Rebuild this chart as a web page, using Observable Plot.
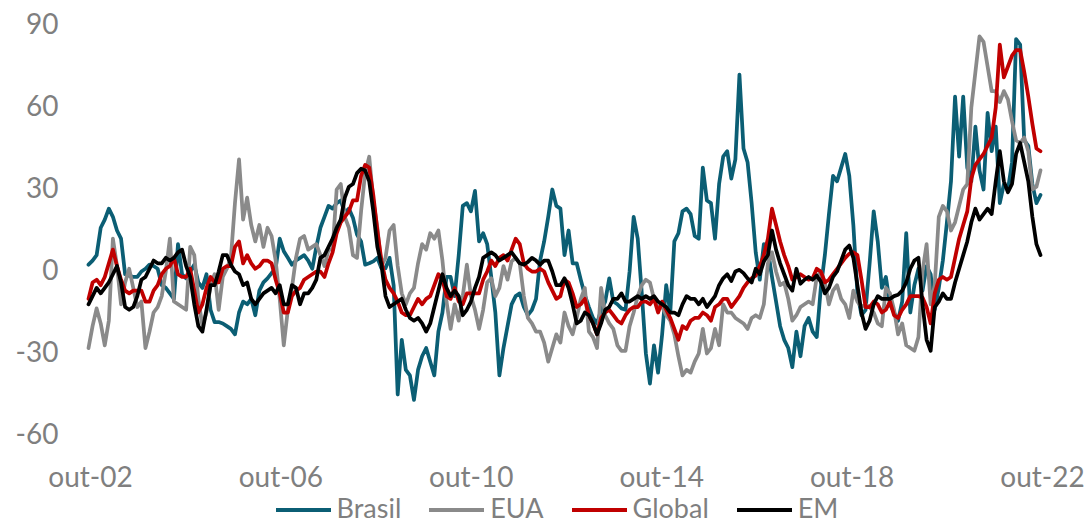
<!DOCTYPE html>
<html><head><meta charset="utf-8">
<script src="https://cdn.jsdelivr.net/npm/d3@7"></script>
<script src="https://cdn.jsdelivr.net/npm/@observablehq/plot@0.6"></script>
<style>
html,body{margin:0;padding:0;background:#fff;}
body{width:1084px;height:525px;overflow:hidden;position:relative;font-family:Lato,"Open Sans",sans-serif;}
#chart{position:absolute;left:0;top:0;}
#legend{position:absolute;left:0;top:491px;width:1084px;box-sizing:border-box;padding-left:30px;display:flex;justify-content:center;align-items:center;height:33px;color:#7f7f7f;font-size:27px;line-height:33px;}
.item{display:flex;align-items:center;margin:0 14px;}
.item svg{margin-right:6px;margin-top:4px;}
</style></head><body>
<div id="chart"></div><div id="legend"></div>
<script>
// monthly-spaced readings from out-02 to out-22
const firstDate = "2002-10-01";
const lastDate = "2022-10-01";
const seriesNames = ["Brasil", "EUA", "Global", "EM"];
const seriesColors = ["#0b5e74", "#8a8a8a", "#c00000", "#000000"];

const brasil = [
  2.5, 4, 6, 16, 19, 23, 20, 15, 12, -1,
  -1.5, -2, -2, 0, 1, 2.5, 2, 1, -5, -6,
  -8, -10, 10, -1, -2.5, 0, 2.5, -4, -6, -1,
  -14, -18.5, -18.5, -19, -20, -21, -23, -15, -11, -12,
  -10, -16, -7, -4, -2.5, -0.6, 1, 12, 7.4, 5,
  2.5, 4, 5, 6, 4, 1, 9, 16, 20, 24,
  23, 25, 26, 21.5, 23, 19.7, 13.5, 11, 2.5, 3,
  3.7, 5, 1.2, 1.2, 5, -5, -45, -25, -36, -38,
  -47, -36, -31, -28, -33, -38, -22, -15, -2, -2,
  -9, 6, 24, 25, 22, 29.5, 11, 14, 10, -2,
  -15, -38, -28, -20, -12, -9, -8, -13, -16, -14,
  -10, 4, 11, 20, 30, 24, 23, 6, 15, 3,
  3, -3, -8.6, -13, -17, -19, -14, -11, -2.5, -11,
  -12, -13.5, -14, 0, 20, 12, -8, -30, -41, -27,
  -37, -23, -5, -15, 11, 14, 22, 23, 21, 13,
  12, 38, 26, 25, 12, 32, 42, 44, 34, 41,
  72, 45, 40, 25, 7, -3, 10, 8, -2, -11,
  -20, -25, -28, -35, -22, -31, -20, -17, -22, -24,
  -6, 6, 21, 35, 33, 38, 43, 35, 17, -8,
  -16, -14, 3, 22, 11, -6, -2, -12, -15, -18,
  -11, 14, -15, -5, 1, -7, 2, -1, -14, -6,
  4, 18, 33, 64, 42, 64, 38, 33, 53, 37,
  30, 58, 44, 53, 25, 32, 30, 40, 85, 83,
  48, 46, 32, 25, 28
];
const eua = [
  -28, -20, -13.5, -19, -27, -18, 12, 2, -12, -4,
  1, -6, -13, -11, -28, -22, -15, -13, -9, 0,
  12, -11, -12, -13, -14, 9, 6, -10, -20, -15,
  -5, -1, -14, -2, 1, 5, 25, 41, 19, 27,
  17, 11, 17, 9, 16, 13, 4, -10, -27, -14,
  -6, 5, 12, 13, 8, 9, 10, 6, 2, 8,
  8, 30, 32, 20, 16, 6, 5, 22, 36, 42,
  26, 16, 2, 5, 15, 17, 2, -8, -12, -8,
  -6, 3, 10, 8, 14, 12, 15, 4, -11, -21,
  -12, -18, -9, 2.5, -9, -14, -21, -14, -4, -2.5,
  -9, -6, 2, -3, 3.7, 5, 3, -9, -17, -19,
  -22, -22, -26, -33, -28, -23, -26, -15, -20, -23,
  -17, -10, -6, -22, -24, -28, -6, -16, -19, -21,
  -27, -29, -29, -20, -15, -9, -5, -3, -4, -10,
  -12, -13, -16, -18, -23, -31, -38, -36, -37, -33,
  -30, -21, -30, -28, -21, -27, -12, -15, -15, -17,
  -18, -19, -21, -17, -16, -17, -12, 3, 7, 0,
  -5, -4, -10, -18, -16, -13, -12, -11, -12, -2,
  0, -4, -12, -7, -5, -10, -12, -17, -7, -11,
  -13, -12, -13, -15, -19, -20, -6, -8, -14, -23,
  -19, -27, -28, -29, -24, 0, 10, -12, -5, 20,
  24, 22, 15, 18, 24, 30, 32, 60, 73, 86,
  84, 75, 66, 66, 62, 66, 63, 55, 48, 47,
  49, 44, 30, 31, 37
];
const global = [
  -10, -4, -3, -5, -2, 3, 8, 2, -3, -7,
  -8, -7, -7, -7, -11, -11, -7, -5, -1, 1,
  2, 5, -1, -2, -2, 1, -7, -15, -12, -6,
  -2, -4, -4, 1, 2, 2, 9, 11, 3, 6,
  3, 1, 2, 4, 4, 3, -3, -8, -15, -15,
  -9, -7, -6, -3, -2, -1, 0, 0, -2, 3,
  7, 14, 18, 20, 22, 26, 26, 35, 39, 38,
  28, 15, 4, -3, -6, -8, -11, -15, -16, -16,
  -13, -10, -12, -10, -9, -5, -1, -3, -9, -10,
  -6, -11, -12, -8, -8, -8, -8, -3, 0, 4,
  2, 5, 6, 4, 8, 12, 10, 3, 1, 0,
  0, 1, 0, -4, -7, -10, -9, -3, -4, -8,
  -13, -12, -10, -16, -19, -23, -17, -15, -14, -16,
  -18, -19, -16, -14, -13, -13, -11, -11, -12, -10,
  -15, -11, -14, -17, -21, -25, -20, -21, -18, -17,
  -17, -15, -16, -18, -13, -12, -10, -10, -13, -11,
  -9, -6, -4, -2.5, -1.5, 2, 6, 12, 23, 17,
  11, 6, 2, -3, -2, -1, -2, -3, -2.5, 1,
  0, -4, -3, -1, 1, 3, 5, 6.5, 7, 6,
  -3, -13, -13, -11, -12, -15, -14, -11, -16, -17,
  -14, -12, -9, -9, -9, -9.5, -13, -19, -8, -3,
  -2, -3, -2, 5, 12, 17, 22, 34, 39, 41,
  43, 46, 49, 60, 83, 71, 75, 79, 81, 81,
  73, 64, 54, 45, 44
];
const em = [
  -12, -9, -6, -8, -6, -4, -1, 2, -4, -13,
  -14, -13, -9, -3, -2, 1, 4, 3, 3, 5,
  4, 5, 7, 8, 2, -2, -12, -20, -22, -14,
  -5, -5, 0, 6, 6, 2.5, 0, -1, -5, -4,
  -10, -12, -10, -8, -7, -6, -8, -5, -12, -12,
  -5, -6, -12, -8, -8, -6, -3, 5, 6, 9,
  12, 16, 19, 27, 31, 32, 36, 37.6, 37, 33,
  22, 9, 2.5, -9, -13, -12, -11, -10, -14, -17,
  -18, -17, -19, -22, -19, -13, -7, -1, -6, -9,
  -7, -9, -16, -14, -11, -6, -2, 5, 6, 7,
  6, 4, 5, 6, 7, 5, 3, 2.5, 3.5, 5,
  4, 2.5, 4, 4, 0, -5, -5, -2.5, -6, -12,
  -19, -18, -15, -16, -19, -23, -19, -14, -13, -10,
  -10, -8, -11, -11, -10, -9, -10, -9, -10, -9,
  -11, -12, -13, -15, -15, -16, -12, -9, -10, -10,
  -12, -10, -13, -11, -9, -5, -2.5, -1, -3.5, 0,
  0.6, -0.6, -2.5, -4, 1, -1, 3.7, 6, 15, 8,
  3, -1, -5, -7, 1, -4.5, -3, -2, -3, -1.5,
  -3.7, -8, -6, -2, 0, 4, 8, 9.5, 5, -5,
  -15, -21, -18, -12, -9, -10, -10, -10, -9, -8.5,
  -7, -4, 1, 4, 5, -12, -25, -29, -13, -11,
  -8, -10, -10, -4, 1, 6, 11, 18, 23, 19,
  21, 23, 21, 33, 44, 33, 29, 32, 43, 47,
  40, 33, 20, 10, 6
];

const yTicks = [-60, -30, 0, 30, 60, 90];
const xTickDates = ["2002-10-01", "2006-10-01", "2010-10-01", "2014-10-01", "2018-10-01", "2022-10-01"];
const xTickLabels = ["out-02", "out-06", "out-10", "out-14", "out-18", "out-22"];

const t0 = new Date(firstDate + "T00:00:00Z");
const t1 = new Date(lastDate + "T00:00:00Z");
const seriesValues = [brasil, eua, global, em];
const rows = [];
seriesValues.forEach((vals, s) => {
  const n = vals.length - 1;
  vals.forEach((v, i) => rows.push({
    series: seriesNames[s],
    date: new Date(+t0 + (+t1 - +t0) * i / n),
    value: v
  }));
});

const tickDates = xTickDates.map(d => new Date(d + "T00:00:00Z"));
const labelOf = new Map(tickDates.map((d, i) => [+d, xTickLabels[i]]));
const fontFam = 'Lato,"Open Sans",sans-serif';

const chart = Plot.plot({
  width: 1084,
  height: 491,
  marginLeft: 88,
  marginRight: 44,
  marginTop: 25,
  marginBottom: 56,
  style: {fontFamily: fontFam, fontSize: "28px", color: "#7f7f7f", background: "#fff", overflow: "visible"},
  x: {type: "utc", domain: [t0, t1]},
  y: {domain: [-60, 90]},
  color: {domain: seriesNames, range: seriesColors},
  marks: [
    Plot.axisY({ticks: yTicks, tickSize: 0, tickPadding: 30, label: null, fill: "#7f7f7f", tickFormat: d => String(d)}),
    Plot.axisX({ticks: tickDates, tickSize: 0, tickPadding: 32, label: null, fill: "#7f7f7f", dx: 2, tickFormat: d => labelOf.get(+d)}),
    Plot.lineY(rows, {x: "date", y: "value", z: "series", stroke: "series", strokeWidth: 3.75, strokeLinejoin: "round"})
  ]
});
document.getElementById("chart").appendChild(chart);

const legend = document.getElementById("legend");
seriesNames.forEach((name, i) => {
  const item = document.createElement("div");
  item.className = "item";
  item.innerHTML = `<svg width="55" height="8"><line x1="0" x2="55" y1="4" y2="4" stroke="${seriesColors[i]}" stroke-width="4.2"/></svg><span>${name}</span>`;
  legend.appendChild(item);
});
</script>
</body></html>
